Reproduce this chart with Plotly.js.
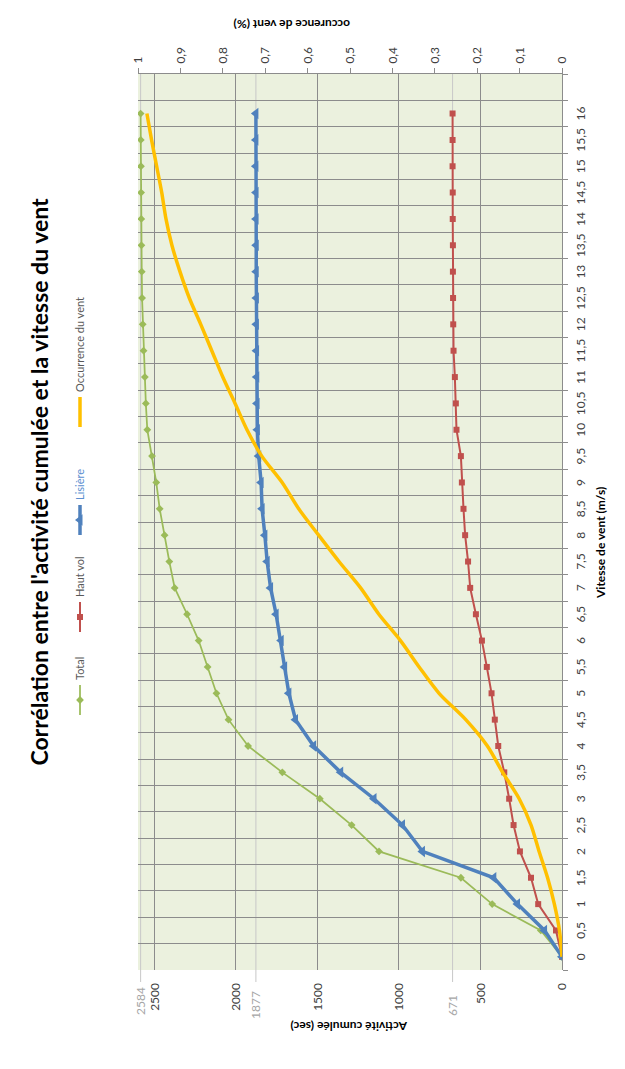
<!DOCTYPE html>
<html>
<head>
<meta charset="utf-8">
<script src="https://cdn.plot.ly/plotly-3.0.1.min.js"></script>
<style>
html,body{margin:0;padding:0;width:625px;height:1069px;overflow:hidden;background:#fff;}
#frameL{position:absolute;left:5px;top:0;width:1px;height:1055px;background:#8c8c8c;}
#frameB{position:absolute;left:5px;top:1055px;width:620px;height:1px;background:#8c8c8c;}
#chart{position:absolute;left:0;top:0;width:1069px;height:625px;transform-origin:0 0;transform:translateY(1069px) rotate(-90deg);}
</style>
</head>
<body>
<div id="frameL"></div>
<div id="frameB"></div>
<div id="chart"></div>
<script>
// Wind speed categories (m/s)
const windSpeed = [0,0.5,1,1.5,2,2.5,3,3.5,4,4.5,5,5.5,6,6.5,7,7.5,8,8.5,9,9.5,10,10.5,11,11.5,12,12.5,13,13.5,14,14.5,15,15.5,16];
const windLabels = ["0","0,5","1","1,5","2","2,5","3","3,5","4","4,5","5","5,5","6","6,5","7","7,5","8","8,5","9","9,5","10","10,5","11","11,5","12","12,5","13","13,5","14","14,5","15","15,5","16"];

// Cumulative activity (sec)
const total   = [0,130,428,620,1122,1290,1485,1715,1925,2045,2119,2173,2228,2299,2375,2408,2437,2467,2488,2514,2543,2552,2558,2566,2571,2575,2577,2579,2580,2581,2582,2583,2584];
const hautVol = [0,37,146,190,258,297,324,354,391,412,432,461,491,528,563,576,594,604,614,620,647,651,657,665,667,668,669,669,670,670,671,671,671];
const lisiere = [0,107,273,418,856,978,1153,1357,1523,1634,1675,1701,1722,1753,1787,1808,1822,1839,1845,1860,1868,1870,1872,1873,1874,1874,1875,1875,1876,1876,1877,1877,1877];

// Wind occurrence (cumulative fraction)
const occurrence = [0,0.006,0.018,0.034,0.054,0.073,0.101,0.140,0.176,0.227,0.290,0.337,0.381,0.432,0.475,0.526,0.574,0.621,0.660,0.708,0.743,0.771,0.800,0.826,0.852,0.879,0.901,0.920,0.934,0.944,0.956,0.968,0.979];

// Axis ticks
const activityTicks = [0,500,1000,1500,2000,2500];
const refValues = [2584,1877,671];
const refLabels = ["2584","1877","671"];

const traces = [
  {x: windSpeed, y: total, name: 'Total', type: 'scatter', mode: 'lines+markers', legend: 'legend',
   line: {color: '#9BBB59', width: 1.75}, marker: {symbol: 'diamond', size: 6, color: '#9BBB59'}, hoverinfo: 'skip'},
  {x: windSpeed, y: hautVol, name: 'Haut vol', type: 'scatter', mode: 'lines+markers', legend: 'legend2',
   line: {color: '#C0504D', width: 2}, marker: {symbol: 'square', size: 6, color: '#C0504D'}, hoverinfo: 'skip'},
  {x: windSpeed, y: lisiere, name: '<span style="color:#5B8FD0">Lisière</span>', type: 'scatter', mode: 'lines+markers', legend: 'legend3',
   line: {color: '#4F81BD', width: 3.5}, marker: {symbol: 'triangle-up', size: 10, color: '#4F81BD'}, hoverinfo: 'skip'},
  {x: windSpeed, y: occurrence, name: 'Occurrence du vent', type: 'scatter', mode: 'lines', yaxis: 'y2', legend: 'legend4',
   line: {color: '#FFC000', width: 3.5, shape: 'spline', smoothing: 0.8}, hoverinfo: 'skip'}
];

const plotL = 99, plotR = 995, plotT = 138, plotB = 562;
const pw = plotR - plotL, ph = plotB - plotT;
const px = X => (X - plotL) / pw;
const py = Y => (plotB - Y) / ph;

const shapes = refValues.map(v => ({
  type: 'line', layer: 'between', xref: 'paper', yref: 'y',
  x0: px(87), x1: 1, y0: v, y1: v,
  line: {color: '#C8C8C8', width: 1}
}));

const refLabelX = [84, 80, 76];
const annotations = refValues.map((v, i) => ({
  xref: 'paper', yref: 'y', x: px(refLabelX[i]), y: v, xanchor: 'right', yanchor: 'middle',
  text: refLabels[i], showarrow: false, font: {size: 12, color: '#A6A6A6'}
}));
annotations.push(
  {xref: 'paper', yref: 'paper', x: px(526), y: py(600), xanchor: 'center', yanchor: 'middle',
   text: 'Vitesse de vent (m/s)', showarrow: false, font: {size: 12, color: '#000', weight: 'bold'}},
  {xref: 'paper', yref: 'paper', x: px(42), y: py(349), xanchor: 'center', yanchor: 'middle', textangle: -90,
   text: 'Activité cumulée (sec)', showarrow: false, font: {size: 12, color: '#000', weight: 'bold'}},
  {xref: 'paper', yref: 'paper', x: px(1044), y: py(292), xanchor: 'center', yanchor: 'middle', textangle: -90,
   text: 'occurence de vent (%)', showarrow: false, font: {size: 12, color: '#000', weight: 'bold'}}
);

const legendBase = {orientation: 'h', xanchor: 'left', y: py(80), yanchor: 'middle',
                    font: {size: 11, color: '#595959'}, bgcolor: 'rgba(0,0,0,0)', itemwidth: 30};

const layout = {
  width: 1069, height: 625,
  margin: {l: plotL, r: 1069 - plotR, t: plotT, b: 625 - plotB, pad: 0},
  paper_bgcolor: '#FFFFFF', plot_bgcolor: '#EBF1DE',
  font: {family: 'Lato, "Open Sans", sans-serif', size: 12, color: '#404040'},
  separators: ', ',
  showlegend: true,
  legend:  Object.assign({}, legendBase, {x: px(349)}),
  legend2: Object.assign({}, legendBase, {x: px(432)}),
  legend3: Object.assign({}, legendBase, {x: px(529)}),
  legend4: Object.assign({}, legendBase, {x: px(637)}),
  title: {text: "Corrélation entre l'activité cumulée et la vitesse du vent",
          font: {size: 23, family: 'Lato, sans-serif', color: '#000', weight: 'bold'},
          xref: 'container', x: 587 / 1069, xanchor: 'center', yref: 'container', y: 1 - 40 / 625, yanchor: 'middle'},
  xaxis: {range: [-0.25, 16.75], tickmode: 'array', tickvals: windSpeed, ticktext: windLabels,
          showgrid: false, zeroline: false, ticks: '', ticklabelstandoff: 8, tickangle: 0,
          showline: true, linecolor: '#8C8C8C', linewidth: 1,
          minor: {tickmode: 'linear', tick0: 0.25, dtick: 0.5, showgrid: true, gridcolor: '#8C8C8C', gridwidth: 1,
                  ticks: 'outside', ticklen: 5, tickcolor: '#8C8C8C'}},
  yaxis: {range: [0, 2600], tickmode: 'array', tickvals: activityTicks, showgrid: true, gridcolor: '#8C8C8C', gridwidth: 1,
          zeroline: false, ticks: '', ticklabelstandoff: 12, showline: false},
  yaxis2: {overlaying: 'y', side: 'right', range: [0, 1], tickmode: 'linear', tick0: 0, dtick: 0.1,
           showgrid: false, zeroline: false, ticks: 'outside', ticklen: 5, tickcolor: '#8C8C8C',
           showline: true, linecolor: '#8C8C8C', linewidth: 1, ticklabelstandoff: 2},
  shapes: shapes,
  annotations: annotations
};

Plotly.newPlot('chart', traces, layout, {displayModeBar: false, staticPlot: true});
</script>
</body>
</html>
